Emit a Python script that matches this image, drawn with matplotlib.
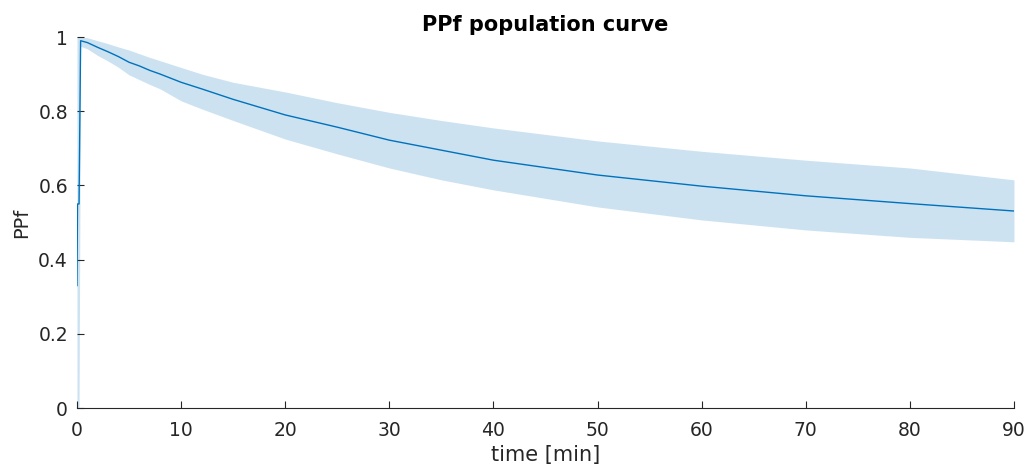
import numpy as np
import matplotlib
matplotlib.use("Agg")
import matplotlib.pyplot as plt

# ─────────────────────────────────────────────
# DATA
# ─────────────────────────────────────────────
time_min = [0, 0.05, 0.2, 0.35, 1, 2, 3, 4, 5, 6, 7, 8, 10, 12, 15, 20,
            25, 30, 35, 40, 50, 60, 70, 80, 90]
ppf_mean = [0.33, 0.55, 0.55, 0.99, 0.985, 0.972, 0.96, 0.947, 0.932, 0.922, 0.91, 0.90,
            0.878, 0.86, 0.832, 0.79, 0.757, 0.722, 0.695, 0.668, 0.628,
            0.598, 0.572, 0.551, 0.531]
ppf_upper = [1.0, 1.0, 1.0, 1.0, 0.998, 0.99, 0.982, 0.973, 0.965, 0.955, 0.945, 0.936,
             0.918, 0.90, 0.878, 0.852, 0.823, 0.797, 0.775, 0.755, 0.72,
             0.692, 0.668, 0.647, 0.615]
ppf_lower = [0.0, 0.0, 0.0, 0.975, 0.968, 0.95, 0.935, 0.918, 0.898, 0.885, 0.872, 0.86,
             0.828, 0.806, 0.775, 0.725, 0.685, 0.647, 0.615, 0.588, 0.542,
             0.507, 0.48, 0.46, 0.448]

x_ticks = [0, 10, 20, 30, 40, 50, 60, 70, 80, 90]
y_ticks = [0, 0.2, 0.4, 0.6, 0.8, 1.0]
y_tick_labels = ["0", "0.2", "0.4", "0.6", "0.8", "1"]

LINE_COLOR = "#0072BD"
TEXT_COLOR = "#262626"

fig = plt.figure(figsize=(10.29, 4.68), dpi=100)
ax = fig.add_axes([0.0748, 0.1282, 0.9106, 0.7927])

ax.fill_between(time_min, ppf_lower, ppf_upper, color=LINE_COLOR,
                alpha=0.2, linewidth=0)
ax.plot(time_min, ppf_mean, color=LINE_COLOR, linewidth=1.0)

ax.set_xlim(0, 90)
ax.set_ylim(0, 1)
ax.set_xticks(x_ticks)
ax.set_yticks(y_ticks)
ax.set_yticklabels(y_tick_labels)

for side in ["top", "right", "left"]:
    ax.spines[side].set_visible(False)
ax.spines["bottom"].set_color(TEXT_COLOR)
ax.spines["bottom"].set_linewidth(0.8)

ax.tick_params(direction="in", length=5, width=0.8, colors=TEXT_COLOR,
               labelsize=13.5)
ax.tick_params(axis="x", pad=9)
ax.tick_params(axis="y", pad=6.5)

ax.set_title("PPf population curve", fontsize=15, fontweight="bold",
             color="black", pad=4)
ax.set_xlabel("time [min]", fontsize=15, color=TEXT_COLOR, labelpad=4)
ax.set_ylabel("PPf", fontsize=14, color=TEXT_COLOR, labelpad=5)

plt.savefig("out.png", dpi=100)
plt.close()
